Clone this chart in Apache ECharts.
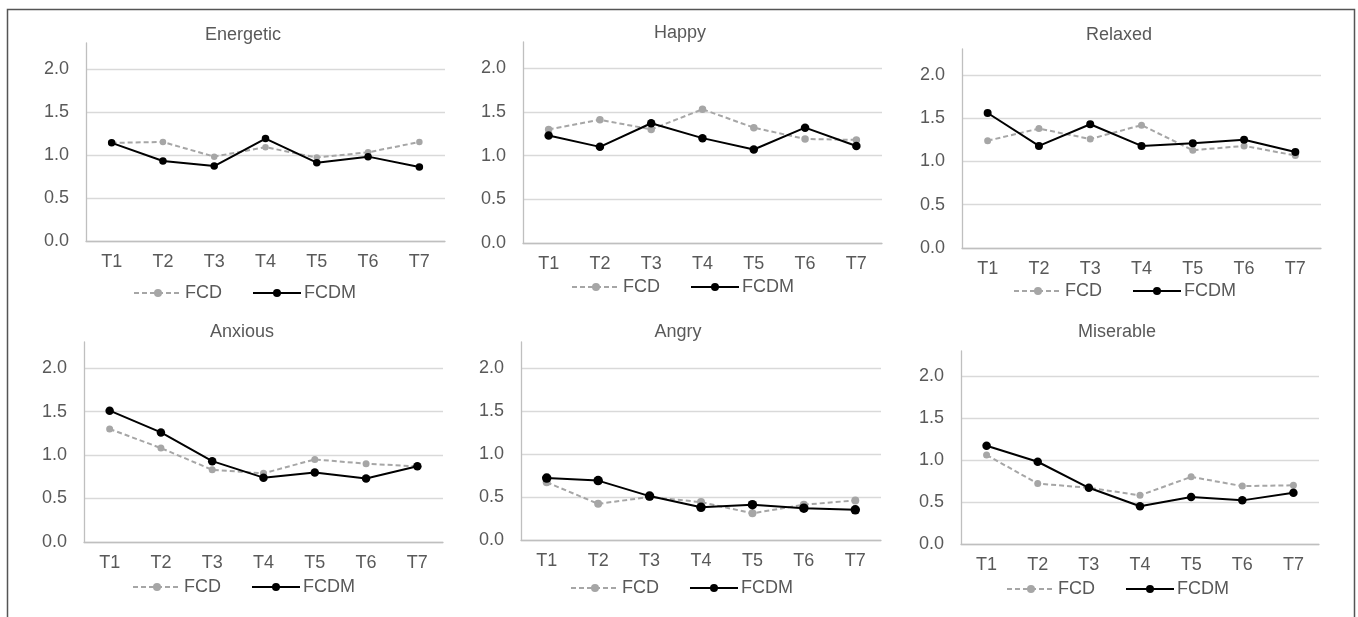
<!DOCTYPE html>
<html>
<head>
<meta charset="utf-8">
<script src="https://cdn.jsdelivr.net/npm/echarts@6/dist/echarts.min.js"></script>
<style>
html,body{margin:0;padding:0;background:#fff;}
#c{width:1358px;height:617px;}
</style>
</head>
<body>
<div id="c"></div>
<script>
const categories = ['T1','T2','T3','T4','T5','T6','T7'];
const yTicks = [0, 0.5, 1.0, 1.5, 2.0];
const panelTitles = ['Energetic','Happy','Relaxed','Anxious','Angry','Miserable'];
const seriesNames = ['FCD','FCDM'];

const energeticFCD  = [1.14, 1.15, 0.98, 1.09, 0.97, 1.03, 1.15];
const energeticFCDM = [1.14, 0.93, 0.87, 1.19, 0.91, 0.98, 0.86];
const happyFCD      = [1.30, 1.41, 1.30, 1.53, 1.32, 1.19, 1.18];
const happyFCDM     = [1.23, 1.10, 1.37, 1.20, 1.07, 1.32, 1.11];
const relaxedFCD    = [1.24, 1.38, 1.26, 1.42, 1.13, 1.18, 1.07];
const relaxedFCDM   = [1.56, 1.18, 1.43, 1.18, 1.21, 1.25, 1.11];
const anxiousFCD    = [1.30, 1.08, 0.83, 0.79, 0.95, 0.90, 0.87];
const anxiousFCDM   = [1.51, 1.26, 0.93, 0.74, 0.80, 0.73, 0.87];
const angryFCD      = [0.67, 0.42, 0.50, 0.44, 0.31, 0.41, 0.46];
const angryFCDM     = [0.72, 0.69, 0.51, 0.38, 0.41, 0.37, 0.35];
const miserableFCD  = [1.06, 0.72, 0.67, 0.58, 0.80, 0.69, 0.70];
const miserableFCDM = [1.17, 0.98, 0.67, 0.45, 0.56, 0.52, 0.61];

const panelData = [
  [energeticFCD, energeticFCDM],
  [happyFCD, happyFCDM],
  [relaxedFCD, relaxedFCDM],
  [anxiousFCD, anxiousFCDM],
  [angryFCD, angryFCDM],
  [miserableFCD, miserableFCDM]
];

// layout (pixels)
const grids = [
  {left: 86,  top: 43,  width: 359, height: 198},
  {left: 523, top: 42,  width: 359, height: 201},
  {left: 962, top: 49,  width: 359, height: 199},
  {left: 84,  top: 342, width: 359, height: 200},
  {left: 521, top: 342, width: 360, height: 198},
  {left: 961, top: 351, width: 358, height: 193}
];
const titlePos = [[243,26],[680,24],[1119,26],[242,323],[678,323],[1117,323]];
const legendPos = [[133,284],[571,278],[1013,282],[132,578],[570,579],[1006,580]];
const markSize = [[6.5,7.5],[7.5,8.5],[7,8],[7,8.5],[8,9.5],[7,8.5]];

const FONT = 'Liberation Sans, Arial, sans-serif';
const TXT = '#595959';
const FS = 18;

const option = {
  backgroundColor: '#fff',
  animation: false,
  textStyle: {fontFamily: FONT},
  title: [], legend: [], grid: [], xAxis: [], yAxis: [], series: [],
  graphic: [{
    type: 'rect', silent: true,
    shape: {x: 7.5, y: 9.5, width: 1347, height: 640},
    style: {fill: 'none', stroke: '#555', lineWidth: 1.5}
  }]
};

panelTitles.forEach((t, i) => {
  option.title.push({
    text: t, left: titlePos[i][0], top: titlePos[i][1], textAlign: 'center', padding: 0,
    textStyle: {fontSize: FS, fontWeight: 'normal', color: TXT, fontFamily: FONT}
  });
  option.grid.push(Object.assign({containLabel: false}, grids[i]));
  option.xAxis.push({
    type: 'category', gridIndex: i, data: categories, boundaryGap: true,
    axisLine: {lineStyle: {color: '#bfbfbf', width: 1.3}},
    axisTick: {show: false},
    axisLabel: {color: TXT, fontSize: FS, margin: 12, fontFamily: FONT}
  });
  option.yAxis.push({
    type: 'value', gridIndex: i, min: yTicks[0], max: 2.3, interval: yTicks[1] - yTicks[0],
    axisLine: {show: true, lineStyle: {color: '#bfbfbf', width: 1.3}},
    axisTick: {show: false},
    axisLabel: {color: TXT, fontSize: FS, margin: 17, fontFamily: FONT, showMaxLabel: false,
      formatter: v => v.toFixed(1)},
    splitLine: {show: true, showMaxLine: false, lineStyle: {color: '#d9d9d9', width: 1.3}}
  });
  option.legend.push({
    left: legendPos[i][0], top: legendPos[i][1], padding: 0, orient: 'horizontal',
    itemWidth: 48, itemHeight: 10, itemGap: 30, selectedMode: false,
    data: seriesNames,
    textStyle: {color: TXT, fontSize: FS, fontFamily: FONT, padding: [0,0,0,-2]}
  });
  option.series.push({
    name: seriesNames[0], type: 'line', xAxisIndex: i, yAxisIndex: i,
    data: panelData[i][0], symbol: 'circle', symbolSize: markSize[i][0],
    lineStyle: {color: '#a6a6a6', width: 2, type: [5, 3]},
    itemStyle: {color: '#a6a6a6'}, z: 2
  });
  option.series.push({
    name: seriesNames[1], type: 'line', xAxisIndex: i, yAxisIndex: i,
    data: panelData[i][1], symbol: 'circle', symbolSize: markSize[i][1],
    lineStyle: {color: '#000', width: 2},
    itemStyle: {color: '#000'}, z: 3
  });
});

const chart = echarts.init(document.getElementById('c'), null, {renderer: 'canvas'});
chart.setOption(option);
</script>
</body>
</html>
